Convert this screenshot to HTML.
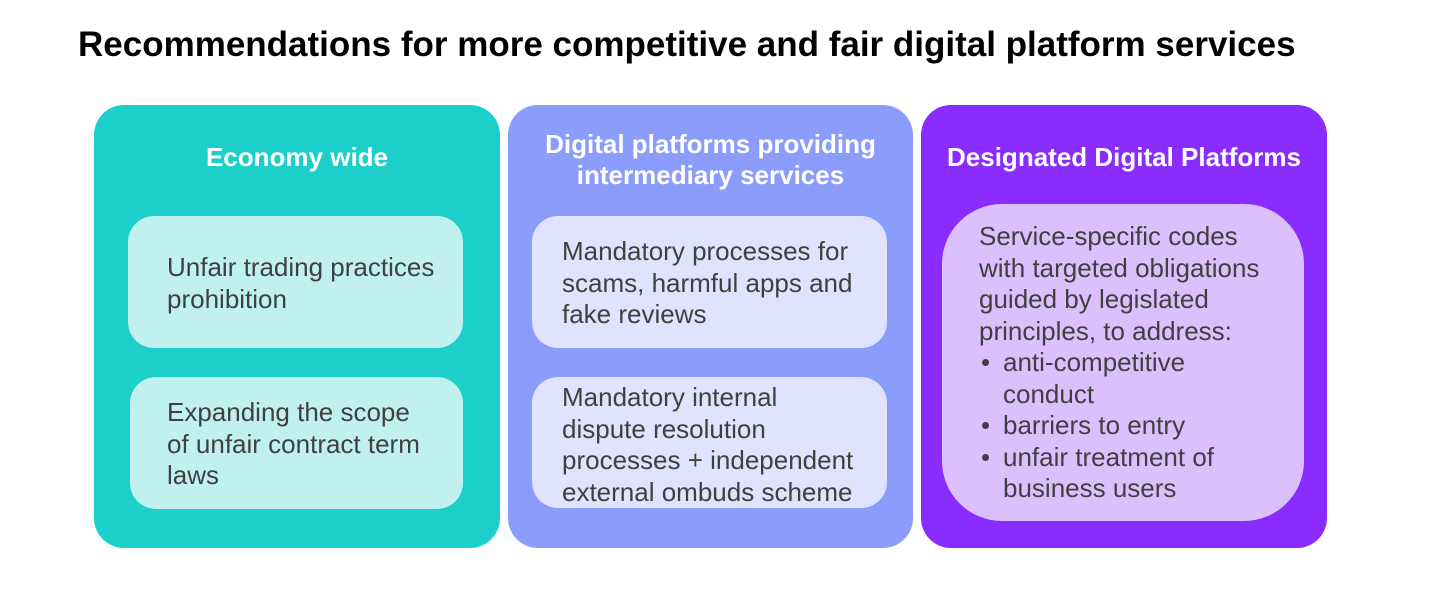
<!DOCTYPE html>
<html><head><style>
body{margin:0;width:1434px;height:600px;background:#fff;position:relative;overflow:hidden;font-family:Arial,"Liberation Sans",Helvetica,sans-serif}
.a{position:absolute}
.t{position:absolute;font-size:26px;line-height:31.5px;color:#404040;white-space:nowrap}
.h{position:absolute;font-weight:bold;font-size:26px;line-height:31px;color:#fff;text-align:center;white-space:nowrap}
</style></head><body>
<div class="a" style="left:78px;top:25px;font-size:35px;font-weight:bold;color:#000;white-space:nowrap;line-height:40px">Recommendations for more competitive and fair digital platform services</div>

<div class="a" style="left:94px;top:105px;width:406px;height:443px;background:#1ccfca;border-radius:30px"></div>
<div class="a" style="left:508px;top:105px;width:405px;height:443px;background:#8c9cfb;border-radius:30px"></div>
<div class="a" style="left:921px;top:105px;width:406px;height:443px;background:#8a2cfd;border-radius:30px"></div>

<div class="h" style="left:94px;width:406px;top:142px">Economy wide</div>
<div class="h" style="left:508px;width:405px;top:129px">Digital platforms providing<br>intermediary services</div>
<div class="h" style="left:921px;width:406px;top:142px">Designated Digital Platforms</div>

<div class="a" style="left:128px;top:216px;width:335px;height:132px;background:#c0f1ee;border-radius:26px"></div>
<div class="a" style="left:130px;top:377px;width:333px;height:132px;background:#c0f1ee;border-radius:26px"></div>
<div class="a" style="left:532px;top:216px;width:355px;height:132px;background:#dfe3fd;border-radius:26px"></div>
<div class="a" style="left:532px;top:377px;width:355px;height:131px;background:#dfe3fd;border-radius:26px"></div>
<div class="a" style="left:942px;top:204px;width:362px;height:317px;background:#dac0fd;border-radius:60px"></div>

<div class="t" style="left:167px;top:252px">Unfair trading practices<br>prohibition</div>
<div class="t" style="left:167px;top:397px">Expanding the scope<br>of unfair contract term<br>laws</div>
<div class="t" style="left:562px;top:236px">Mandatory processes for<br>scams, harmful apps and<br>fake reviews</div>
<div class="t" style="left:562px;top:382px">Mandatory internal<br>dispute resolution<br>processes + independent<br>external ombuds scheme</div>
<div class="t" style="left:979px;top:221px">Service-specific codes<br>with targeted obligations<br>guided by legislated<br>principles, to address:</div>
<div class="t" style="left:981px;top:347px">•<br><br>•<br>•</div>
<div class="t" style="left:1003px;top:347px">anti-competitive<br>conduct<br>barriers to entry<br>unfair treatment of<br>business users</div>
</body></html>
